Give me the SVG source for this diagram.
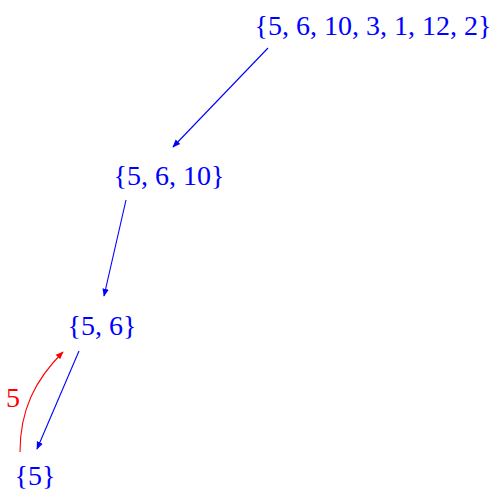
<svg xmlns="http://www.w3.org/2000/svg" width="497" height="493" viewBox="0 0 497 493">
<defs>
<style>
text{font-family:"Liberation Serif","DejaVu Serif",serif;font-size:28px;text-anchor:middle}
.n text{fill:#0000ff}
.e{fill:none;stroke-width:1.1}
</style>
<marker id="ab" viewBox="0 0 10 10" refX="9" refY="5" markerWidth="8" markerHeight="8" orient="auto" markerUnits="userSpaceOnUse"><path d="M0,1 L10,5 L0,9 Z" fill="#0000ff"/></marker>
<marker id="ar" viewBox="0 0 10 10" refX="9" refY="5" markerWidth="8" markerHeight="8" orient="auto" markerUnits="userSpaceOnUse"><path d="M0,1 L10,5 L0,9 Z" fill="#ff0000"/></marker>
</defs>
<rect width="497" height="493" fill="#ffffff"/>
<g id="n1" class="n"><text x="373" y="35">{5, 6, 10, 3, 1, 12, 2}</text></g>
<g id="n2" class="n"><text x="169" y="185">{5, 6, 10}</text></g>
<g id="n3" class="n"><text x="102" y="335">{5, 6}</text></g>
<g id="n4" class="n"><text x="35" y="485">{5}</text></g>
<g id="edges">
<path class="e" stroke="#0000ff" d="M268,48 L173,147" marker-end="url(#ab)"/>
<path class="e" stroke="#0000ff" d="M126,200 L104,296" marker-end="url(#ab)"/>
<path class="e" stroke="#0000ff" d="M79,351 L37,449" marker-end="url(#ab)"/>
<path class="e" stroke="#ff0000" d="M20,452 C20,410 35,380 63,352" marker-end="url(#ar)"/>
<text x="13" y="407" fill="#ff0000">5</text>
</g>
</svg>
